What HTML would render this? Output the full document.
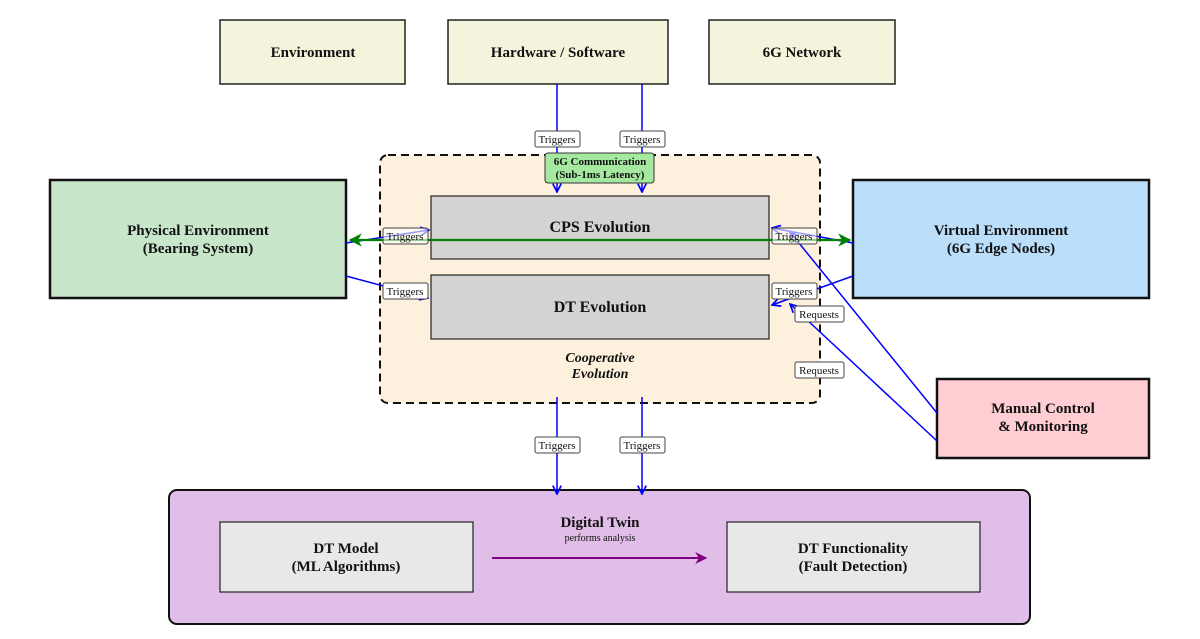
<!DOCTYPE html>
<html><head><meta charset="utf-8"><style>html,body{margin:0;padding:0;background:#fff}svg{display:block}</style></head><body>
<svg width="1200" height="639" viewBox="0 0 1200 639" xmlns="http://www.w3.org/2000/svg" font-family="Liberation Serif, serif">
<defs>
<marker id="ab" viewBox="0 0 10 10" refX="9" refY="5" markerWidth="7" markerHeight="7" orient="auto-start-reverse"><path d="M1,1 L9,5 L1,9" fill="none" stroke="#0000ff" stroke-width="1.6"/></marker>
<marker id="ag" viewBox="0 0 10 10" refX="9" refY="5" markerWidth="6" markerHeight="6" orient="auto-start-reverse"><path d="M0,0 L10,5 L0,10 L3,5z" fill="#008000"/></marker>
<marker id="ap" viewBox="0 0 10 10" refX="9" refY="5" markerWidth="6" markerHeight="6" orient="auto"><path d="M0,0 L10,5 L0,10 L3,5z" fill="#800080"/></marker>
</defs>
<g stroke="#222" stroke-width="1.5" fill="#f4f4dc">
<rect x="220" y="20" width="185" height="64"/><rect x="448" y="20" width="220" height="64"/><rect x="709" y="20" width="186" height="64"/>
</g>
<g font-weight="bold" font-size="15" text-anchor="middle" fill="#111">
<text x="313" y="57">Environment</text><text x="558" y="57">Hardware / Software</text><text x="802" y="57">6G Network</text>
</g>
<rect x="380" y="155" width="440" height="248" rx="8" fill="#fdf0dd" stroke="#111" stroke-width="2" stroke-dasharray="8,5"/>
<rect x="50" y="180" width="296" height="118" fill="#c8e6c9" stroke="#111" stroke-width="2.5"/>
<rect x="853" y="180" width="296" height="118" fill="#bbdefb" stroke="#111" stroke-width="2.5"/>
<rect x="937" y="379" width="212" height="79" fill="#ffcdd2" stroke="#111" stroke-width="2.5"/>
<g font-weight="bold" font-size="15" text-anchor="middle" fill="#111">
<text x="198" y="235">Physical Environment</text><text x="198" y="253">(Bearing System)</text>
<text x="1001" y="235">Virtual Environment</text><text x="1001" y="253">(6G Edge Nodes)</text>
<text x="1043" y="413">Manual Control</text><text x="1043" y="431">&amp; Monitoring</text>
</g>
<rect x="431" y="196" width="338" height="63" fill="#d3d3d3" stroke="#222" stroke-width="1.2"/>
<rect x="431" y="275" width="338" height="64" fill="#d3d3d3" stroke="#222" stroke-width="1.2"/>
<g font-weight="bold" font-size="16" text-anchor="middle" fill="#111">
<text x="600" y="232">CPS Evolution</text><text x="600" y="312">DT Evolution</text>
</g>
<g font-weight="bold" font-style="italic" font-size="14" text-anchor="middle" fill="#111">
<text x="600" y="362">Cooperative</text><text x="600" y="378">Evolution</text>
</g>
<rect x="169" y="490" width="861" height="134" rx="8" fill="#e1bee7" stroke="#111" stroke-width="2"/>
<rect x="220" y="522" width="253" height="70" fill="#e8e8e8" stroke="#222" stroke-width="1.2"/>
<rect x="727" y="522" width="253" height="70" fill="#e8e8e8" stroke="#222" stroke-width="1.2"/>
<g font-weight="bold" font-size="15" text-anchor="middle" fill="#111">
<text x="346" y="553">DT Model</text><text x="346" y="571">(ML Algorithms)</text>
<text x="853" y="553">DT Functionality</text><text x="853" y="571">(Fault Detection)</text>
<text x="600" y="527">Digital Twin</text>
</g>
<text x="600" y="541" font-size="10" text-anchor="middle" fill="#111">performs analysis</text>
<line x1="492" y1="558" x2="706" y2="558" stroke="#800080" stroke-width="2" marker-end="url(#ap)"/>
<g stroke="#0000ff" stroke-width="1.5" fill="none" marker-end="url(#ab)">
<line x1="557" y1="84" x2="557" y2="192"/><line x1="642" y1="84" x2="642" y2="192"/>
<line x1="557" y1="397" x2="557" y2="494"/><line x1="642" y1="397" x2="642" y2="494"/>
<line x1="346" y1="243" x2="429" y2="230"/>
<line x1="346" y1="276" x2="428" y2="298"/>
<line x1="853" y1="243" x2="772" y2="228"/>
<line x1="853" y1="276" x2="772" y2="305"/>
<line x1="937" y1="413" x2="790" y2="232"/>
<line x1="937" y1="441" x2="790" y2="304"/>
</g>
<rect x="545" y="153" width="109" height="30" rx="3" fill="#a5e8a0" stroke="#333" stroke-width="1"/>
<g font-weight="bold" font-size="11" text-anchor="middle" fill="#111">
<text x="600" y="165">6G Communication</text><text x="600" y="178">(Sub-1ms Latency)</text>
</g>
<line x1="350" y1="240" x2="850" y2="240" stroke="#008000" stroke-width="2.2" marker-start="url(#ag)" marker-end="url(#ag)"/>
<g font-size="11" text-anchor="middle" fill="#111">
<g fill="#fff" stroke="#444" stroke-width="1"><rect x="535" y="131" width="45" height="16" rx="2"/><rect x="620" y="131" width="45" height="16" rx="2"/>
<rect x="535" y="437" width="45" height="16" rx="2"/><rect x="620" y="437" width="45" height="16" rx="2"/>
<rect x="383" y="283" width="45" height="16" rx="2"/><rect x="772" y="283" width="45" height="16" rx="2"/>
<rect x="795" y="306" width="49" height="16" rx="2"/><rect x="795" y="362" width="49" height="16" rx="2"/></g>
<g fill="#fff" fill-opacity="0.6" stroke="#444" stroke-width="1"><rect x="383" y="228" width="45" height="16" rx="2"/><rect x="772" y="228" width="45" height="16" rx="2"/></g>
<text x="557" y="143">Triggers</text><text x="642" y="143">Triggers</text>
<text x="557" y="449">Triggers</text><text x="642" y="449">Triggers</text>
<text x="405" y="240">Triggers</text><text x="794" y="240">Triggers</text>
<text x="405" y="295">Triggers</text><text x="794" y="295">Triggers</text>
<text x="819" y="318">Requests</text><text x="819" y="374">Requests</text>
</g>
</svg>
</body></html>
